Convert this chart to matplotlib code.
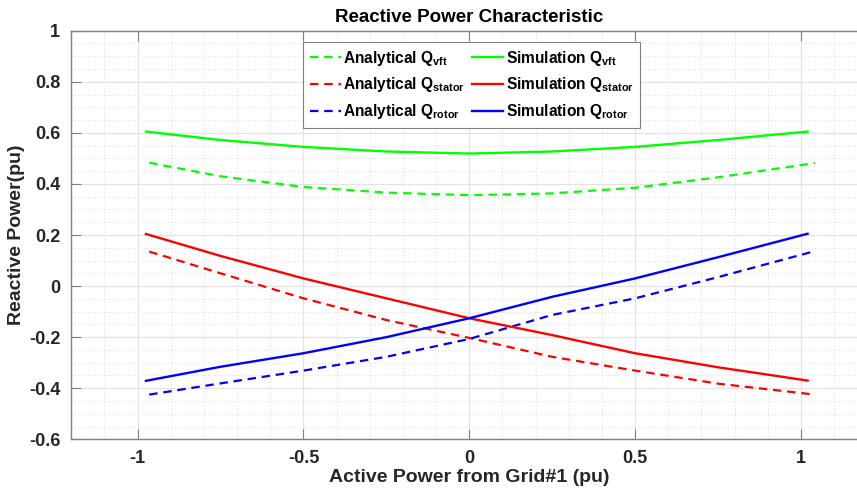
import numpy as np
import matplotlib
matplotlib.use("Agg")
from matplotlib import pyplot as plt
from matplotlib.ticker import MultipleLocator

plt.rcParams['font.family'] = ['Liberation Sans', 'DejaVu Sans']
plt.rcParams['font.weight'] = 'bold'
plt.rcParams['mathtext.fontset'] = 'custom'
plt.rcParams['mathtext.rm'] = 'Liberation Sans:bold'
plt.rcParams['mathtext.it'] = 'Liberation Sans:bold'
plt.rcParams['mathtext.bf'] = 'Liberation Sans:bold'

# simulation curves
p_sim = [-0.975, -0.75, -0.5, -0.25, 0, 0.25, 0.5, 0.75, 1.02]
q_vft_sim = [0.605, 0.572, 0.545, 0.527, 0.519, 0.527, 0.545, 0.572, 0.605]
q_stator_sim = [0.204, 0.118, 0.030, -0.048, -0.126, -0.192, -0.263, -0.318, -0.370]
q_rotor_sim = [-0.371, -0.316, -0.263, -0.200, -0.126, -0.042, 0.030, 0.113, 0.205]

# analytical curves
p_ana = [-0.965, -0.75, -0.5, -0.25, 0, 0.25, 0.5, 0.75, 1.042]
q_vft_ana = [0.483, 0.430, 0.388, 0.366, 0.356, 0.363, 0.385, 0.426, 0.482]
q_stator_ana = [0.135, 0.050, -0.048, -0.133, -0.203, -0.277, -0.331, -0.382, -0.425]
q_rotor_ana = [-0.425, -0.381, -0.331, -0.277, -0.207, -0.113, -0.048, 0.035, 0.137]

W, H = 857, 495
fig = plt.figure(figsize=(W/100, H/100), dpi=100)
ax = fig.add_axes([71.3/W, 55.7/H, 796/W, 408.6/H])

dash = (0, (3.8, 2.6))
# column 1 of the legend: analytical, column 2: simulation
ax.plot(p_ana, q_vft_ana, color=(0, 1, 0), lw=1.6, linestyle=dash, label='Analytical Q$_{\\rm vft}$')
ax.plot(p_ana, q_stator_ana, color=(1, 0, 0), lw=1.6, linestyle=dash, label='Analytical Q$_{\\rm stator}$')
ax.plot(p_ana, q_rotor_ana, color=(0, 0, 1), lw=1.6, linestyle=dash, label='Analytical Q$_{\\rm rotor}$')
ax.plot(p_sim, q_vft_sim, color=(0, 1, 0), lw=1.7, label='Simulation Q$_{\\rm vft}$')
ax.plot(p_sim, q_stator_sim, color=(1, 0, 0), lw=1.7, label='Simulation Q$_{\\rm stator}$')
ax.plot(p_sim, q_rotor_sim, color=(0, 0, 1), lw=1.7, label='Simulation Q$_{\\rm rotor}$')

ax.set_xlim(-1.2, 1.2)
ax.set_ylim(-0.6, 1)
ax.set_xticks([-1, -0.5, 0, 0.5, 1])
ax.set_xticklabels(['-1', '-0.5', '0', '0.5', '1'])
ax.set_yticks([-0.6, -0.4, -0.2, 0, 0.2, 0.4, 0.6, 0.8, 1])
ax.set_yticklabels(['-0.6', '-0.4', '-0.2', '0', '0.2', '0.4', '0.6', '0.8', '1'])
ax.xaxis.set_minor_locator(MultipleLocator(0.1))
ax.yaxis.set_minor_locator(MultipleLocator(0.05))

ax.grid(which='major', color='#e3e3e3', lw=0.9)
ax.grid(which='minor', color='#e0e0e0', lw=0.8, linestyle=(0, (1, 2)))
ax.set_axisbelow(True)

for s in ax.spines.values():
    s.set_color('#808080')
    s.set_linewidth(1.0)
ax.tick_params(which='major', direction='in', length=7, color='#808080',
               labelsize=13, labelcolor='#262626', top=True, right=True, pad=8)
ax.tick_params(which='minor', length=0)

ax.set_title('Reactive Power Characteristic', fontsize=13.5, fontweight='bold', pad=6)
ax.set_xlabel('Active Power from Grid#1 (pu)', fontsize=14, fontweight='bold', color='#262626', labelpad=1)
ax.set_ylabel('Reactive Power(pu)', fontsize=14, fontweight='bold', color='#262626', labelpad=3)

leg = ax.legend(ncol=2, loc='upper left', bbox_to_anchor=(303/W, 1 - 41.7/H),
                bbox_transform=fig.transFigure, borderaxespad=0, fontsize=11.2,
                handlelength=2.0, handletextpad=0.15, columnspacing=0.45,
                labelspacing=0.5, borderpad=0.45, fancybox=False, framealpha=1)
leg.get_frame().set_edgecolor('#808080')
leg.get_frame().set_linewidth(0.8)

fig.savefig('out.png', dpi=100)
